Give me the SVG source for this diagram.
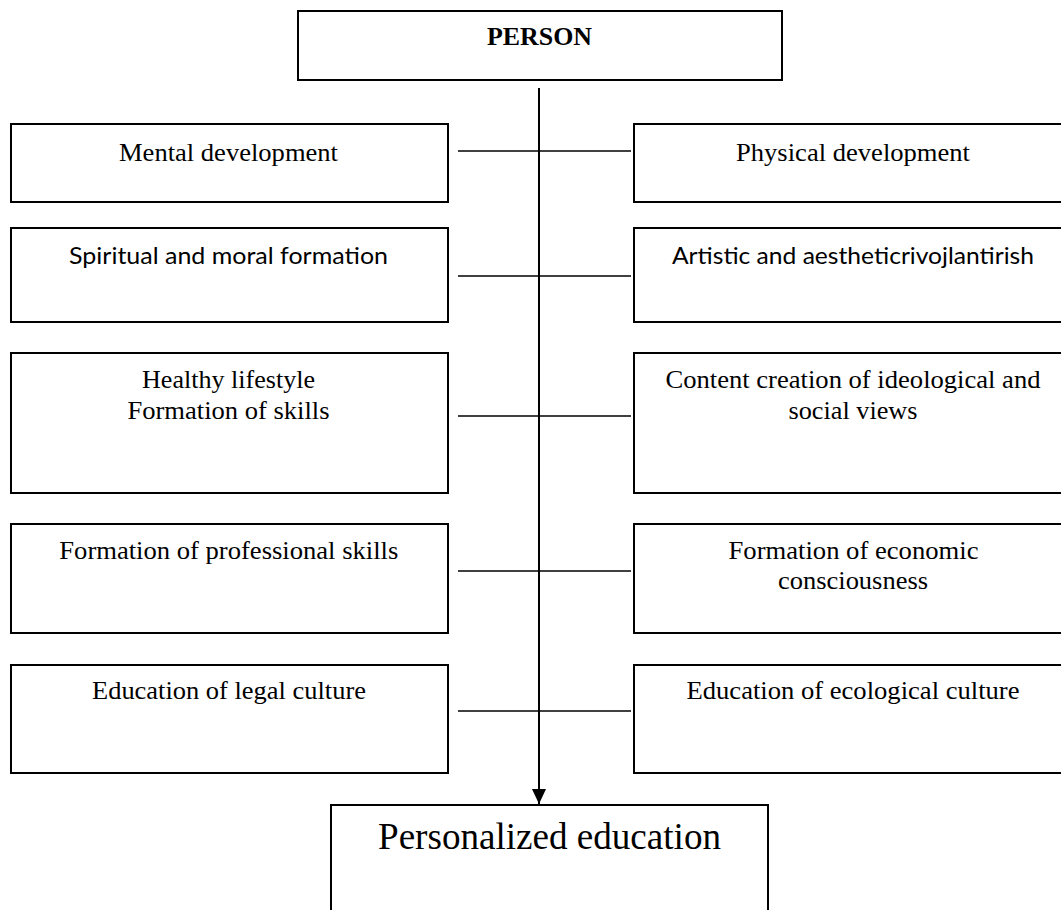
<svg xmlns="http://www.w3.org/2000/svg" width="1061" height="910" viewBox="0 0 1061 910">
  <defs>
    <marker id="arrowhead" viewBox="0 0 15 14" refX="15" refY="7" markerWidth="15" markerHeight="14" markerUnits="userSpaceOnUse" orient="auto">
      <path d="M0,0 L15,7 L0,14 Z" fill="#000"/>
    </marker>
    <style>
      .box { fill: #fff; stroke: #000; stroke-width: 2; }
      .serif { font-family: "Liberation Serif", "Times New Roman", serif; font-size: 25.5px; fill: #000; text-anchor: middle; }
      .sans { font-family: Lato, "Noto Sans", "Liberation Sans", sans-serif; font-size: 24px; fill: #000; text-anchor: middle; }
      .title { font-family: "Liberation Serif", "Times New Roman", serif; font-size: 25.5px; font-weight: bold; fill: #000; text-anchor: middle; }
      .big { font-family: "Liberation Serif", "Times New Roman", serif; font-size: 37px; fill: #000; text-anchor: middle; }
      .link { stroke: #000; stroke-width: 1.6; fill: none; }
      .spine { stroke: #000; stroke-width: 2; fill: none; }
    </style>
  </defs>
  <rect width="1061" height="910" fill="#fff"/>

  <!-- connectors -->
  <g id="connectors">
    <line class="spine" x1="539" y1="88" x2="539" y2="804" marker-end="url(#arrowhead)"/>
    <line class="link" x1="458" y1="151" x2="631" y2="151"/>
    <line class="link" x1="458" y1="276" x2="631" y2="276"/>
    <line class="link" x1="458" y1="416" x2="631" y2="416"/>
    <line class="link" x1="458" y1="571" x2="631" y2="571"/>
    <line class="link" x1="458" y1="711" x2="631" y2="711"/>
  </g>

  <g id="person">
    <rect class="box" x="298" y="11" width="484" height="69"/>
    <text class="title" x="539.5" y="45" textLength="105" lengthAdjust="spacingAndGlyphs">PERSON</text>
  </g>

  <!-- left column -->
  <g id="mental">
    <rect class="box" x="11" y="124" width="437" height="78"/>
    <text class="serif" x="228.5" y="161" textLength="219" lengthAdjust="spacingAndGlyphs">Mental development</text>
  </g>
  <g id="spiritual">
    <rect class="box" x="11" y="228" width="437" height="94"/>
    <text class="sans" x="228.5" y="264" textLength="319" lengthAdjust="spacingAndGlyphs">Spiritual and moral formation</text>
  </g>
  <g id="healthy">
    <rect class="box" x="11" y="353" width="437" height="140"/>
    <text class="serif" x="228.5" y="388" textLength="173" lengthAdjust="spacingAndGlyphs">Healthy lifestyle</text>
    <text class="serif" x="228.5" y="419" textLength="202" lengthAdjust="spacingAndGlyphs">Formation of skills</text>
  </g>
  <g id="professional">
    <rect class="box" x="11" y="524" width="437" height="109"/>
    <text class="serif" x="228.8" y="559" textLength="339" lengthAdjust="spacingAndGlyphs">Formation of professional skills</text>
  </g>
  <g id="legal">
    <rect class="box" x="11" y="665" width="437" height="108"/>
    <text class="serif" x="229" y="699" textLength="274" lengthAdjust="spacingAndGlyphs">Education of legal culture</text>
  </g>

  <!-- right column -->
  <g id="physical">
    <rect class="box" x="634" y="124" width="440" height="78"/>
    <text class="serif" x="853" y="161" textLength="234" lengthAdjust="spacingAndGlyphs">Physical development</text>
  </g>
  <g id="artistic">
    <rect class="box" x="634" y="228" width="440" height="94"/>
    <text class="sans" x="853" y="264" textLength="362" lengthAdjust="spacingAndGlyphs">Artistic and aestheticrivojlantirish</text>
  </g>
  <g id="ideological">
    <rect class="box" x="634" y="353" width="440" height="140"/>
    <text class="serif" x="853" y="388" textLength="375" lengthAdjust="spacingAndGlyphs">Content creation of ideological and</text>
    <text class="serif" x="853" y="419" textLength="129" lengthAdjust="spacingAndGlyphs">social views</text>
  </g>
  <g id="economic">
    <rect class="box" x="634" y="524" width="440" height="109"/>
    <text class="serif" x="853.5" y="559" textLength="250" lengthAdjust="spacingAndGlyphs">Formation of economic</text>
    <text class="serif" x="853" y="589" textLength="150" lengthAdjust="spacingAndGlyphs">consciousness</text>
  </g>
  <g id="ecological">
    <rect class="box" x="634" y="665" width="440" height="108"/>
    <text class="serif" x="853" y="699" textLength="333" lengthAdjust="spacingAndGlyphs">Education of ecological culture</text>
  </g>

  <g id="personalized">
    <rect class="box" x="331" y="805" width="437" height="130"/>
    <text class="big" x="549.5" y="849" textLength="343" lengthAdjust="spacingAndGlyphs">Personalized education</text>
  </g>
</svg>
